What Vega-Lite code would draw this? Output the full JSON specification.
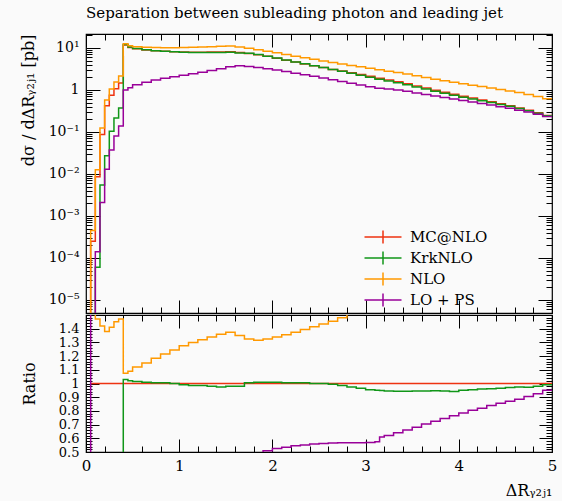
{
  "$schema": "https://vega.github.io/schema/vega-lite/v6.json",
  "background": "#fafafa",
  "padding": {"left": 19, "top": 4, "right": 8, "bottom": 5},
  "spacing": -4,
  "config": {
    "view": {"stroke": "#000", "strokeWidth": 1.2},
    "font": "DejaVu Serif",
    "axis": {"domain": false, "grid": false, "tickColor": "#000", "tickWidth": 1, "labelColor": "#000", "titleColor": "#000", "labelFont": "DejaVu Serif", "titleFont": "DejaVu Serif", "titleFontWeight": "normal", "labelFlush": false, "labelOverlap": false}
  },
  "resolve": {"legend": {"color": "independent"}, "scale": {"color": "independent"}},
  "datasets": {
    "top": [
      {"x": 0, "mc": 1e-6, "krk": 1e-6, "nlo": 1e-6, "lops": 1e-6},
      {"x": 0.05, "mc": 2.5e-4, "krk": 1e-6, "nlo": 4.5e-4, "lops": 1e-6},
      {"x": 0.1, "mc": 0.0086, "krk": 6e-5, "nlo": 0.0126, "lops": 1.4e-4},
      {"x": 0.15, "mc": 0.087, "krk": 0.0055, "nlo": 0.124, "lops": 0.0021},
      {"x": 0.2, "mc": 0.42, "krk": 0.027, "nlo": 0.58, "lops": 0.013},
      {"x": 0.25, "mc": 0.75, "krk": 0.104, "nlo": 1.06, "lops": 0.037},
      {"x": 0.3, "mc": 1.07, "krk": 0.215, "nlo": 1.55, "lops": 0.08},
      {"x": 0.35, "mc": 1.46, "krk": 0.37, "nlo": 2.15, "lops": 0.138},
      {"x": 0.4, "mc": 11.7, "krk": 12.05, "nlo": 12.58, "lops": 0.995},
      {"x": 0.45, "mc": 10.3, "krk": 10.51, "nlo": 11.23, "lops": 1.13},
      {"x": 0.5, "mc": 9.6, "krk": 9.74, "nlo": 10.75, "lops": 1.34},
      {"x": 0.6, "mc": 9.0, "krk": 9.09, "nlo": 10.35, "lops": 1.53},
      {"x": 0.7, "mc": 8.6, "krk": 8.64, "nlo": 10.19, "lops": 1.72},
      {"x": 0.8, "mc": 8.3, "krk": 8.34, "nlo": 10.08, "lops": 1.91},
      {"x": 0.9, "mc": 8.1, "krk": 8.1, "nlo": 10.08, "lops": 2.07},
      {"x": 1.0, "mc": 8.0, "krk": 7.92, "nlo": 10.2, "lops": 2.24},
      {"x": 1.1, "mc": 7.95, "krk": 7.83, "nlo": 10.34, "lops": 2.42},
      {"x": 1.2, "mc": 7.95, "krk": 7.83, "nlo": 10.49, "lops": 2.65},
      {"x": 1.3, "mc": 8.0, "krk": 7.84, "nlo": 10.72, "lops": 2.92},
      {"x": 1.4, "mc": 8.05, "krk": 7.85, "nlo": 10.95, "lops": 3.22},
      {"x": 1.5, "mc": 8.1, "krk": 7.94, "nlo": 11.14, "lops": 3.55},
      {"x": 1.6, "mc": 7.76, "krk": 7.6, "nlo": 10.48, "lops": 3.75},
      {"x": 1.7, "mc": 7.41, "krk": 7.45, "nlo": 9.82, "lops": 3.6},
      {"x": 1.8, "mc": 6.92, "krk": 6.99, "nlo": 9.1, "lops": 3.43},
      {"x": 1.9, "mc": 6.31, "krk": 6.37, "nlo": 8.36, "lops": 3.22},
      {"x": 2.0, "mc": 5.7, "krk": 5.76, "nlo": 7.64, "lops": 2.99},
      {"x": 2.1, "mc": 5.13, "krk": 5.16, "nlo": 6.95, "lops": 2.74},
      {"x": 2.2, "mc": 4.61, "krk": 4.63, "nlo": 6.34, "lops": 2.51},
      {"x": 2.3, "mc": 4.17, "krk": 4.19, "nlo": 5.82, "lops": 2.3},
      {"x": 2.4, "mc": 3.78, "krk": 3.78, "nlo": 5.35, "lops": 2.11},
      {"x": 2.5, "mc": 3.41, "krk": 3.41, "nlo": 4.89, "lops": 1.92},
      {"x": 2.6, "mc": 3.09, "krk": 3.07, "nlo": 4.5, "lops": 1.75},
      {"x": 2.7, "mc": 2.82, "krk": 2.78, "nlo": 4.17, "lops": 1.6},
      {"x": 2.8, "mc": 2.56, "krk": 2.5, "nlo": 3.85, "lops": 1.45},
      {"x": 2.9, "mc": 2.32, "krk": 2.24, "nlo": 3.55, "lops": 1.32},
      {"x": 3.0, "mc": 2.11, "krk": 2.02, "nlo": 3.29, "lops": 1.2},
      {"x": 3.1, "mc": 1.91, "krk": 1.81, "nlo": 3.04, "lops": 1.1},
      {"x": 3.2, "mc": 1.73, "krk": 1.64, "nlo": 2.8, "lops": 1.06},
      {"x": 3.3, "mc": 1.57, "krk": 1.48, "nlo": 2.61, "lops": 1.0},
      {"x": 3.4, "mc": 1.41, "krk": 1.33, "nlo": 2.4, "lops": 0.931},
      {"x": 3.5, "mc": 1.25, "krk": 1.18, "nlo": 2.18, "lops": 0.85},
      {"x": 3.6, "mc": 1.11, "krk": 1.05, "nlo": 1.98, "lops": 0.783},
      {"x": 3.7, "mc": 0.99, "krk": 0.938, "nlo": 1.81, "lops": 0.718},
      {"x": 3.8, "mc": 0.883, "krk": 0.834, "nlo": 1.66, "lops": 0.658},
      {"x": 3.9, "mc": 0.792, "krk": 0.746, "nlo": 1.53, "lops": 0.606},
      {"x": 4.0, "mc": 0.711, "krk": 0.675, "nlo": 1.41, "lops": 0.558},
      {"x": 4.1, "mc": 0.641, "krk": 0.612, "nlo": 1.3, "lops": 0.516},
      {"x": 4.2, "mc": 0.578, "krk": 0.555, "nlo": 1.21, "lops": 0.474},
      {"x": 4.3, "mc": 0.521, "krk": 0.501, "nlo": 1.12, "lops": 0.438},
      {"x": 4.4, "mc": 0.469, "krk": 0.453, "nlo": 1.03, "lops": 0.401},
      {"x": 4.5, "mc": 0.421, "krk": 0.408, "nlo": 0.951, "lops": 0.366},
      {"x": 4.6, "mc": 0.373, "krk": 0.364, "nlo": 0.865, "lops": 0.33},
      {"x": 4.7, "mc": 0.329, "krk": 0.32, "nlo": 0.783, "lops": 0.298},
      {"x": 4.8, "mc": 0.286, "krk": 0.28, "nlo": 0.698, "lops": 0.265},
      {"x": 4.9, "mc": 0.247, "krk": 0.245, "nlo": 0.618, "lops": 0.235},
      {"x": 5.0, "mc": 0.247, "krk": 0.245, "nlo": 0.618, "lops": 0.235}
    ],
    "ratio": [
      {"x": 0, "mc": null, "krk": null, "nlo": 3, "lops": 3},
      {"x": 0.05, "mc": 1, "krk": null, "nlo": 1.8, "lops": 0.01},
      {"x": 0.1, "mc": 1, "krk": 0.007, "nlo": 1.47, "lops": 0.016},
      {"x": 0.15, "mc": 1, "krk": 0.063, "nlo": 1.42, "lops": 0.024},
      {"x": 0.2, "mc": 1, "krk": 0.064, "nlo": 1.38, "lops": 0.031},
      {"x": 0.25, "mc": 1, "krk": 0.139, "nlo": 1.41, "lops": 0.049},
      {"x": 0.3, "mc": 1, "krk": 0.2, "nlo": 1.45, "lops": 0.075},
      {"x": 0.35, "mc": 1, "krk": 0.25, "nlo": 1.47, "lops": 0.095},
      {"x": 0.4, "mc": 1, "krk": 1.03, "nlo": 1.075, "lops": 0.085},
      {"x": 0.45, "mc": 1, "krk": 1.02, "nlo": 1.09, "lops": 0.11},
      {"x": 0.5, "mc": 1, "krk": 1.015, "nlo": 1.12, "lops": 0.14},
      {"x": 0.6, "mc": 1, "krk": 1.01, "nlo": 1.15, "lops": 0.17},
      {"x": 0.7, "mc": 1, "krk": 1.005, "nlo": 1.185, "lops": 0.2},
      {"x": 0.8, "mc": 1, "krk": 1.005, "nlo": 1.215, "lops": 0.23},
      {"x": 0.9, "mc": 1, "krk": 1.0, "nlo": 1.245, "lops": 0.255},
      {"x": 1.0, "mc": 1, "krk": 0.99, "nlo": 1.275, "lops": 0.28},
      {"x": 1.1, "mc": 1, "krk": 0.985, "nlo": 1.3, "lops": 0.305},
      {"x": 1.2, "mc": 1, "krk": 0.985, "nlo": 1.32, "lops": 0.33},
      {"x": 1.3, "mc": 1, "krk": 0.98, "nlo": 1.34, "lops": 0.36},
      {"x": 1.4, "mc": 1, "krk": 0.975, "nlo": 1.36, "lops": 0.39},
      {"x": 1.5, "mc": 1, "krk": 0.98, "nlo": 1.375, "lops": 0.42},
      {"x": 1.6, "mc": 1, "krk": 0.98, "nlo": 1.35, "lops": 0.45},
      {"x": 1.7, "mc": 1, "krk": 1.005, "nlo": 1.325, "lops": 0.475},
      {"x": 1.8, "mc": 1, "krk": 1.01, "nlo": 1.315, "lops": 0.495},
      {"x": 1.9, "mc": 1, "krk": 1.01, "nlo": 1.325, "lops": 0.51},
      {"x": 2.0, "mc": 1, "krk": 1.01, "nlo": 1.34, "lops": 0.525},
      {"x": 2.1, "mc": 1, "krk": 1.005, "nlo": 1.355, "lops": 0.535},
      {"x": 2.2, "mc": 1, "krk": 1.005, "nlo": 1.375, "lops": 0.545},
      {"x": 2.3, "mc": 1, "krk": 1.005, "nlo": 1.395, "lops": 0.552},
      {"x": 2.4, "mc": 1, "krk": 1.0, "nlo": 1.415, "lops": 0.558},
      {"x": 2.5, "mc": 1, "krk": 1.0, "nlo": 1.435, "lops": 0.562},
      {"x": 2.6, "mc": 1, "krk": 0.995, "nlo": 1.455, "lops": 0.565},
      {"x": 2.7, "mc": 1, "krk": 0.985, "nlo": 1.48, "lops": 0.567},
      {"x": 2.8, "mc": 1, "krk": 0.975, "nlo": 1.505, "lops": 0.568},
      {"x": 2.9, "mc": 1, "krk": 0.965, "nlo": 1.53, "lops": 0.568},
      {"x": 3.0, "mc": 1, "krk": 0.955, "nlo": 1.56, "lops": 0.57},
      {"x": 3.1, "mc": 1, "krk": 0.95, "nlo": 1.59, "lops": 0.575},
      {"x": 3.15, "mc": 1, "krk": 0.948, "nlo": 1.6, "lops": 0.61},
      {"x": 3.2, "mc": 1, "krk": 0.946, "nlo": 1.62, "lops": 0.62},
      {"x": 3.3, "mc": 1, "krk": 0.944, "nlo": 1.66, "lops": 0.64},
      {"x": 3.4, "mc": 1, "krk": 0.943, "nlo": 1.7, "lops": 0.66},
      {"x": 3.5, "mc": 1, "krk": 0.945, "nlo": 1.74, "lops": 0.68},
      {"x": 3.6, "mc": 1, "krk": 0.945, "nlo": 1.78, "lops": 0.705},
      {"x": 3.7, "mc": 1, "krk": 0.947, "nlo": 1.83, "lops": 0.725},
      {"x": 3.8, "mc": 1, "krk": 0.945, "nlo": 1.88, "lops": 0.745},
      {"x": 3.9, "mc": 1, "krk": 0.942, "nlo": 1.93, "lops": 0.765},
      {"x": 4.0, "mc": 1, "krk": 0.95, "nlo": 1.98, "lops": 0.785},
      {"x": 4.1, "mc": 1, "krk": 0.955, "nlo": 2.03, "lops": 0.805},
      {"x": 4.2, "mc": 1, "krk": 0.96, "nlo": 2.09, "lops": 0.82},
      {"x": 4.3, "mc": 1, "krk": 0.962, "nlo": 2.15, "lops": 0.84},
      {"x": 4.4, "mc": 1, "krk": 0.965, "nlo": 2.2, "lops": 0.855},
      {"x": 4.5, "mc": 1, "krk": 0.97, "nlo": 2.26, "lops": 0.87},
      {"x": 4.6, "mc": 1, "krk": 0.975, "nlo": 2.32, "lops": 0.885},
      {"x": 4.7, "mc": 1, "krk": 0.972, "nlo": 2.38, "lops": 0.905},
      {"x": 4.8, "mc": 1, "krk": 0.98, "nlo": 2.44, "lops": 0.925},
      {"x": 4.9, "mc": 1, "krk": 0.99, "nlo": 2.5, "lops": 0.95},
      {"x": 5.0, "mc": 1, "krk": 0.99, "nlo": 2.5, "lops": 0.95}
    ]
  },
  "vconcat": [
    {
      "width": 466,
      "height": 279,
      "title": {"text": "Separation between subleading photon and leading jet", "anchor": "start", "frame": "group", "font": "DejaVu Serif", "fontSize": 15, "fontWeight": "normal", "color": "#000", "offset": 13},
      "data": {"name": "top"},
      "transform": [{"fold": ["mc", "krk", "nlo", "lops"], "as": ["series", "value"]}],
      "layer": [
        {
          "mark": {"type": "line", "interpolate": "step-after", "strokeWidth": 1.5, "clip": true},
          "encoding": {
            "x": {"field": "x", "type": "quantitative", "scale": {"domain": [0, 5], "nice": false, "zero": false},
              "axis": {"orient": "bottom", "title": null, "labels": false, "values": [0,0.2,0.4,0.6,0.8,1,1.2,1.4,1.6,1.8,2,2.2,2.4,2.6,2.8,3,3.2,3.4,3.6,3.8,4,4.2,4.4,4.6,4.8,5],
                "tickSize": {"condition": {"test": "abs(datum.value - round(datum.value)) < 0.001", "value": -13}, "value": -6}}},
            "y": {"field": "value", "type": "quantitative", "scale": {"type": "log", "domain": [4.9e-6, 21.5], "nice": false},
              "axis": {"orient": "left", "title": "dσ / dΔRᵧ₂ⱼ₁ [pb]", "titleAnchor": "end", "titleFontSize": 16, "titleX": -50, "labelPadding": 21,
                "values": [5e-6,6e-6,7e-6,8e-6,9e-6,1e-5,2e-5,3e-5,4e-5,5e-5,6e-5,7e-5,8e-5,9e-5,1e-4,2e-4,3e-4,4e-4,5e-4,6e-4,7e-4,8e-4,9e-4,0.001,0.002,0.003,0.004,0.005,0.006,0.007,0.008,0.009,0.01,0.02,0.03,0.04,0.05,0.06,0.07,0.08,0.09,0.1,0.2,0.3,0.4,0.5,0.6,0.7,0.8,0.9,1,2,3,4,5,6,7,8,9,10,20],
                "tickSize": {"condition": {"test": "abs(log(datum.value)/LN10 - round(log(datum.value)/LN10)) < 0.01", "value": -14}, "value": -6},
                "labelFontSize": {"condition": {"test": "abs(log(datum.value)/LN10 - round(log(datum.value)/LN10)) < 0.01", "value": 14}, "value": 0},
                "labelExpr": "abs(log(datum.value)/LN10 - round(log(datum.value)/LN10)) < 0.01 ? (round(log(datum.value)/LN10) == 0 ? '1' : round(log(datum.value)/LN10) == 1 ? '10¹' : round(log(datum.value)/LN10) == -1 ? '10⁻¹' : round(log(datum.value)/LN10) == -2 ? '10⁻²' : round(log(datum.value)/LN10) == -3 ? '10⁻³' : round(log(datum.value)/LN10) == -4 ? '10⁻⁴' : '10⁻⁵') : ''"}},
            "color": {"field": "series", "type": "nominal",
              "scale": {"domain": ["mc", "krk", "nlo", "lops"], "range": ["#EE3311", "#109618", "#FF9900", "#990099"]},
              "legend": {"orient": "none", "legendX": 286, "legendY": 192, "title": null, "padding": 0,
                "symbolType": "M-1.85,0H1.85M0,-0.66V0.66", "symbolSize": 400, "symbolStrokeWidth": 1.5,
                "labelFont": "DejaVu Serif", "labelFontSize": 15, "labelColor": "#000", "labelOffset": 16, "rowPadding": 0,
                "labelExpr": "datum.label == 'mc' ? 'MC@NLO' : datum.label == 'krk' ? 'KrkNLO' : datum.label == 'nlo' ? 'NLO' : 'LO + PS'"}}
          }
        },
        {
          "mark": {"type": "point", "opacity": 0, "clip": true},
          "encoding": {
            "x": {"field": "x", "type": "quantitative",
              "axis": {"orient": "top", "title": null, "labels": false, "values": [0,0.2,0.4,0.6,0.8,1,1.2,1.4,1.6,1.8,2,2.2,2.4,2.6,2.8,3,3.2,3.4,3.6,3.8,4,4.2,4.4,4.6,4.8,5],
                "tickSize": {"condition": {"test": "abs(datum.value - round(datum.value)) < 0.001", "value": -13}, "value": -6}}},
            "y": {"field": "value", "type": "quantitative",
              "axis": {"orient": "right", "title": null, "labels": false,
                "values": [5e-6,6e-6,7e-6,8e-6,9e-6,1e-5,2e-5,3e-5,4e-5,5e-5,6e-5,7e-5,8e-5,9e-5,1e-4,2e-4,3e-4,4e-4,5e-4,6e-4,7e-4,8e-4,9e-4,0.001,0.002,0.003,0.004,0.005,0.006,0.007,0.008,0.009,0.01,0.02,0.03,0.04,0.05,0.06,0.07,0.08,0.09,0.1,0.2,0.3,0.4,0.5,0.6,0.7,0.8,0.9,1,2,3,4,5,6,7,8,9,10,20],
                "tickSize": {"condition": {"test": "abs(log(datum.value)/LN10 - round(log(datum.value)/LN10)) < 0.01", "value": -14}, "value": -6}}}
          }
        }
      ],
      "resolve": {"axis": {"x": "independent", "y": "independent"}}
    },
    {
      "width": 466,
      "height": 137,
      "data": {"name": "ratio"},
      "transform": [{"fold": ["mc", "krk", "nlo", "lops"], "as": ["series", "value"]}],
      "layer": [
        {
          "mark": {"type": "line", "interpolate": "step-after", "strokeWidth": 1.5, "clip": true},
          "encoding": {
            "x": {"field": "x", "type": "quantitative", "scale": {"domain": [0, 5], "nice": false, "zero": false},
              "axis": {"orient": "bottom", "title": "ΔRᵧ₂ⱼ₁", "titleAnchor": "end", "titleFontSize": 16, "titlePadding": 9, "labelPadding": 19,
                "values": [0,0.2,0.4,0.6,0.8,1,1.2,1.4,1.6,1.8,2,2.2,2.4,2.6,2.8,3,3.2,3.4,3.6,3.8,4,4.2,4.4,4.6,4.8,5],
                "labelExpr": "abs(datum.value - round(datum.value)) < 0.001 ? format(datum.value, 'd') : ''",
                "labelFontSize": {"condition": {"test": "abs(datum.value - round(datum.value)) < 0.001", "value": 15}, "value": 0},
                "tickSize": {"condition": {"test": "abs(datum.value - round(datum.value)) < 0.001", "value": -13}, "value": -6}}},
            "y": {"field": "value", "type": "quantitative", "scale": {"domain": [0.5, 1.5], "nice": false, "zero": false},
              "axis": {"orient": "left", "title": "Ratio", "titleFontSize": 16, "titleX": -49, "labelPadding": 20,
                "values": [0.5,0.52,0.54,0.56,0.58,0.6,0.62,0.64,0.66,0.68,0.7,0.72,0.74,0.76,0.78,0.8,0.82,0.84,0.86,0.88,0.9,0.92,0.94,0.96,0.98,1,1.02,1.04,1.06,1.08,1.1,1.12,1.14,1.16,1.18,1.2,1.22,1.24,1.26,1.28,1.3,1.32,1.34,1.36,1.38,1.4,1.42,1.44,1.46,1.48],
                "labelExpr": "abs(datum.value*10 - round(datum.value*10)) < 0.001 ? (abs(datum.value - 1) < 0.001 ? '1' : format(datum.value, '.1f')) : ''",
                "labelFontSize": {"condition": {"test": "abs(datum.value*10 - round(datum.value*10)) < 0.001", "value": 13}, "value": 0},
                "tickSize": {"condition": {"test": "abs(datum.value*10 - round(datum.value*10)) < 0.001", "value": -13}, "value": -6}}},
            "color": {"field": "series", "type": "nominal",
              "scale": {"domain": ["mc", "krk", "nlo", "lops"], "range": ["#EE3311", "#109618", "#FF9900", "#990099"]},
              "legend": null}
          }
        },
        {
          "mark": {"type": "point", "opacity": 0, "clip": true},
          "encoding": {
            "x": {"field": "x", "type": "quantitative",
              "axis": {"orient": "top", "title": null, "labels": false, "values": [0,0.2,0.4,0.6,0.8,1,1.2,1.4,1.6,1.8,2,2.2,2.4,2.6,2.8,3,3.2,3.4,3.6,3.8,4,4.2,4.4,4.6,4.8,5],
                "tickSize": {"condition": {"test": "abs(datum.value - round(datum.value)) < 0.001", "value": -13}, "value": -6}}},
            "y": {"field": "value", "type": "quantitative",
              "axis": {"orient": "right", "title": null, "labels": false,
                "values": [0.5,0.52,0.54,0.56,0.58,0.6,0.62,0.64,0.66,0.68,0.7,0.72,0.74,0.76,0.78,0.8,0.82,0.84,0.86,0.88,0.9,0.92,0.94,0.96,0.98,1,1.02,1.04,1.06,1.08,1.1,1.12,1.14,1.16,1.18,1.2,1.22,1.24,1.26,1.28,1.3,1.32,1.34,1.36,1.38,1.4,1.42,1.44,1.46,1.48],
                "tickSize": {"condition": {"test": "abs(datum.value*10 - round(datum.value*10)) < 0.001", "value": -13}, "value": -6}}}
          }
        }
      ],
      "resolve": {"axis": {"x": "independent", "y": "independent"}}
    }
  ]
}
